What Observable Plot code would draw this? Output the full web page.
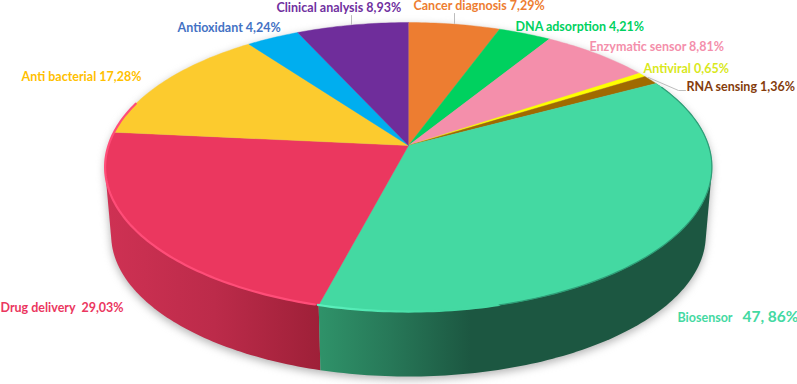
<!DOCTYPE html>
<html><head><meta charset="utf-8">
<script src="https://cdn.jsdelivr.net/npm/d3@7"></script>
<script src="https://cdn.jsdelivr.net/npm/@observablehq/plot@0.6"></script>
<style>html,body{margin:0;padding:0;background:#fff}svg{display:block}</style>
</head><body><div id="chart"></div>
<script>
// Data, clockwise from 12 o'clock
const categories = ["Cancer diagnosis","DNA adsorption","Enzymatic sensor","Antiviral","RNA sensing","Biosensor","Drug delivery","Anti bacterial","Antioxidant","Clinical analysis"];
const values = [7.29,4.21,8.81,0.65,1.36,47.86,29.03,17.28,4.24,8.93];
const valueLabels = ["7,29%","4,21%","8,81%","0,65%","1,36%","47, 86%","29,03%","17,28%","4,24%","8,93%"];
const sliceColors = ["#ED7D31","#00D15F","#F48FAB","#FFFF00","#A06A00","#44D9A2","#EB375F","#FCCB2E","#00AEEF","#6F2D9B"];
const textColors = ["#ED7D31","#00D15F","#F48FAB","#D9E81C","#843C0C","#44D9A2","#EB375F","#FFC000","#4472C4","#7030A0"];
const labelX = [413,515,589,643,686,677,0,21,177,276];
const labelY = [5,26,46,68,86,317,307,76,27,7];
const leaders = [
  {id:"c",x:454,y:13},{id:"c",x:454,y:23},
  {id:"k",x:351,y:15},{id:"k",x:351,y:24},
  {id:"r",x:648,y:77},{id:"r",x:678,y:90},{id:"r",x:685,y:90}
];

// Pie geometry: a circle seen in perspective
const cx=408, cy=145, A=300, B=141.3, k=0.149, depth=68.3, shrink=0.98;
const rad=d=>d*Math.PI/180;
function project(deg,floor=false){
  const u=Math.sin(rad(deg)), v=Math.cos(rad(deg)), w=1+k*v, s=floor?shrink:1;
  return {x:cx+s*A*u/w, y:cy+(floor?depth:0)-s*B*v/w};
}
const total=d3.sum(values);
let acc=0;
const slices=categories.map((name,i)=>{const a0=acc/total*360; acc+=values[i]; return {name,i,a0,a1:acc/total*360};});
const arc=(a0,a1,floor=false)=>{const n=Math.max(2,Math.ceil(a1-a0)+1);return d3.range(n).map(j=>project(a0+(a1-a0)*j/(n-1),floor));};

const topFaces=slices.flatMap(s=>[{x:cx,y:cy,name:s.name},...arc(s.a0,s.a1).map(p=>({...p,name:s.name}))]);
const wallOf=s=>{
  const pts=[...arc(s.a0,s.a1),...arc(s.a0,s.a1,true)].map(p=>[p.x,p.y]);
  return d3.polygonHull(pts).map(([x,y])=>({x,y}));
};
const bio=slices[5], drug=slices[6];
const shadow=d3.polygonHull([...arc(0,360),...arc(0,360,true)].map(p=>[p.x,p.y+3])).map(([x,y])=>({x,y}));

function defs(){
  const d=d3.create("svg:defs");
  const grad=(id,x1,x2,stops)=>{
    const g=d.append("linearGradient").attr("id",id).attr("gradientUnits","userSpaceOnUse")
      .attr("x1",x1).attr("x2",x2).attr("y1",0).attr("y2",0);
    stops.forEach(([o,c])=>g.append("stop").attr("offset",o).attr("stop-color",c));
  };
  grad("wallRed",108,320,[[0,"#CE3153"],[0.5,"#BC2B4A"],[1,"#9E2038"]]);
  grad("wallGreen",320,520,[[0,"#2F9269"],[0.35,"#277858"],[0.75,"#1C5741"],[1,"#1C5741"]]);
  grad("rimGreen",320,440,[[0,"#5CF2BE"],[1,"#44D9A2"]]);
  return d.node();
}

const names=categories;
const plot=Plot.plot({
  width:797,height:384,margin:0,
  x:{domain:[0,797],range:[0,797],axis:null},
  y:{domain:[0,384],range:[0,384],axis:null},
  color:{domain:names,range:sliceColors},
  style:{background:"#fff"},
  marks:[
    defs,
    Plot.line(shadow,{x:"x",y:"y",fill:"#9a9a9a",stroke:"none",imageFilter:"blur(4px)",fillOpacity:0.75}),
    Plot.line(wallOf(drug),{x:"x",y:"y",fill:"url(#wallRed)",stroke:"none"}),
    Plot.line(wallOf(bio),{x:"x",y:"y",fill:"url(#wallGreen)",stroke:"none"}),
    Plot.line(topFaces,{x:"x",y:"y",z:"name",fill:"name",stroke:"name",strokeWidth:0.4}),
    Plot.line(arc(195.5,288),{x:"x",y:"y",stroke:"#FF4D78",strokeWidth:2.2,imageFilter:"blur(0.7px)"}),
    Plot.line(arc(165,195),{x:"x",y:"y",stroke:"url(#rimGreen)",strokeWidth:2.2,imageFilter:"blur(0.7px)"}),
    Plot.line(arc(64,165),{x:"x",y:"y",stroke:"#2F9E78",strokeWidth:1.2,imageFilter:"blur(0.7px)"}),
    Plot.line(leaders,{x:"x",y:"y",z:"id",stroke:"#BDBDBD",strokeWidth:1}),
    Plot.text(slices.filter(s=>s.i!==5),{
      x:s=>labelX[s.i],y:s=>labelY[s.i],
      text:s=>s.name+(s.i===6?"  ":" ")+valueLabels[s.i],
      fill:s=>textColors[s.i],textAnchor:"start",lineAnchor:"middle",
      fontFamily:"Lato",fontWeight:700,fontSize:12.5
    }),
    Plot.text([bio],{x:s=>labelX[s.i],y:s=>labelY[s.i],text:s=>s.name,fill:"#44D9A2",textAnchor:"start",lineAnchor:"middle",fontFamily:"Lato",fontWeight:700,fontSize:12.5}),
    Plot.text([bio],{x:742,y:s=>labelY[s.i]-0.5,text:s=>valueLabels[s.i],fill:"#44D9A2",textAnchor:"start",lineAnchor:"middle",fontFamily:"Lato",fontWeight:700,fontSize:15.5})
  ]
});
document.getElementById("chart").append(plot);
</script></body></html>
